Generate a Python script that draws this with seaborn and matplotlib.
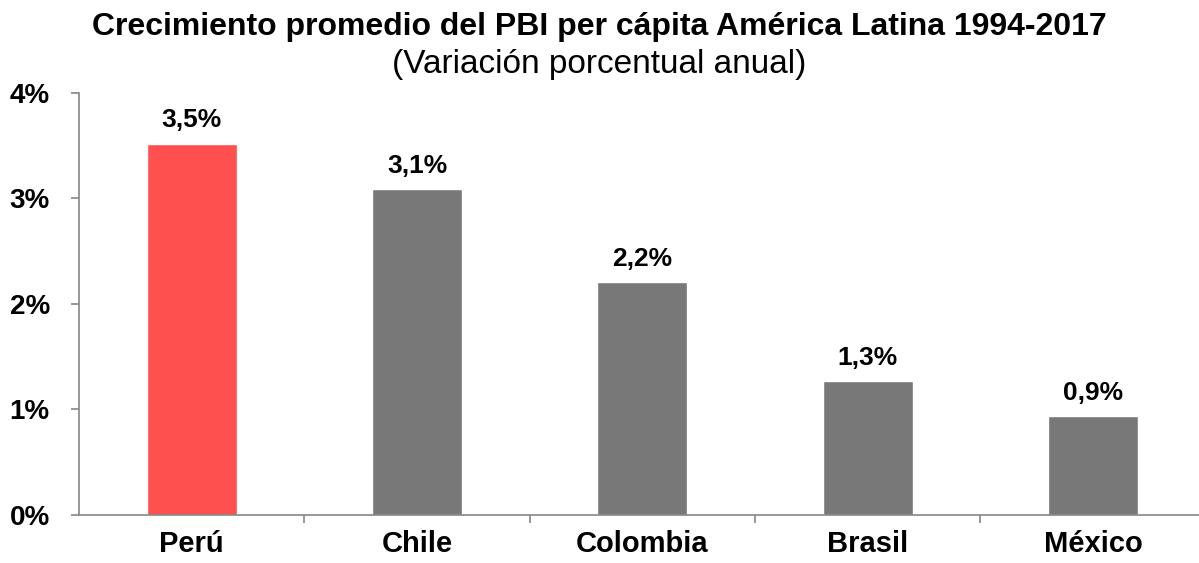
import pandas as pd
import matplotlib.pyplot as plt
import seaborn as sns
from matplotlib.ticker import FuncFormatter, FixedLocator

# Data
paises = ["Perú", "Chile", "Colombia", "Brasil", "México"]
crecimiento = [3.52, 3.09, 2.21, 1.27, 0.94]
colores = ["#FF5050", "#787878", "#787878", "#787878", "#787878"]

df = pd.DataFrame({"pais": paises, "crecimiento": crecimiento})

sns.set_theme(style="white")
plt.rcParams["font.family"] = ["Liberation Sans", "DejaVu Sans"]
plt.rcParams["text.color"] = "black"

fig = plt.figure(figsize=(11.99, 5.63), dpi=100)
ax = fig.add_axes([0.0659, 0.0853, 0.934, 0.7496])

sns.barplot(
    data=df, x="pais", y="crecimiento", hue="pais",
    palette=dict(zip(paises, colores)), width=0.4,
    legend=False, ax=ax, saturation=1,
)

# value labels above bars
for i, v in enumerate(crecimiento):
    ax.annotate(f"{v:.1f}".replace(".", ",") + "%", (i, v),
                xytext=(0, 8), textcoords="offset points",
                ha="center", va="bottom", fontsize=19, fontweight="bold",
                color="black")

ax.set_ylim(0, 4)
ax.set_xlim(-0.5, 4.47)
ax.set_yticks([0, 1, 2, 3, 4])
ax.yaxis.set_major_formatter(FuncFormatter(lambda v, p: f"{v:.0f}%"))
ax.set_xlabel("")
ax.set_ylabel("")

# category separators on the x axis
ax.xaxis.set_minor_locator(FixedLocator([0.5, 1.5, 2.5, 3.5]))
ax.tick_params(axis="x", which="major", length=0, pad=11, labelsize=21)
ax.tick_params(axis="x", which="minor", length=6, width=1.2, color="#868686", bottom=True)
ax.tick_params(axis="y", length=6, width=1.2, color="#868686", left=True, pad=15, labelsize=20)
for lbl in ax.get_xticklabels() + ax.get_yticklabels():
    lbl.set_fontweight("bold")
    lbl.set_color("black")

for s in ["top", "right"]:
    ax.spines[s].set_visible(False)
for s in ["left", "bottom"]:
    ax.spines[s].set_color("#868686")
    ax.spines[s].set_linewidth(1.2)

fig.text(0.5, 0.952, "Crecimiento promedio del PBI per cápita América Latina 1994-2017",
         ha="center", va="center", fontsize=23, fontweight="bold", color="black")
fig.text(0.5, 0.886, "(Variación porcentual anual)",
         ha="center", va="center", fontsize=24, color="black")

plt.savefig("out.png", dpi=100)
plt.close()
